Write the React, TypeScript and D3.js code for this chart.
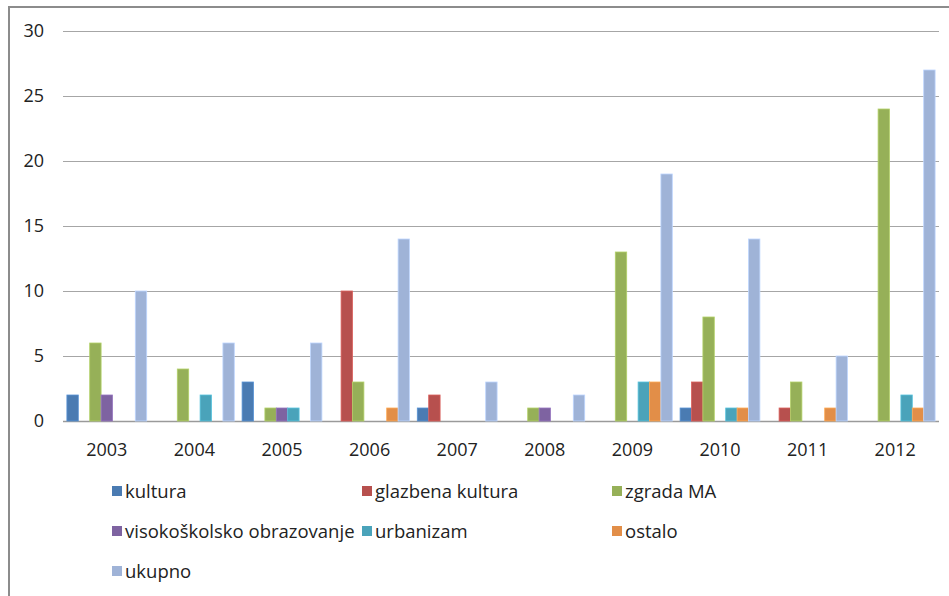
import React from 'react';
import * as d3 from 'd3';

// data
const years = ['2003', '2004', '2005', '2006', '2007', '2008', '2009', '2010', '2011', '2012'];
const seriesNames = ['kultura', 'glazbena kultura', 'zgrada MA', 'visokoškolsko obrazovanje', 'urbanizam', 'ostalo', 'ukupno'];
const kultura = [2, 0, 3, 0, 1, 0, 0, 1, 0, 0];
const glazbena = [0, 0, 0, 10, 2, 0, 0, 3, 1, 0];
const zgrada = [6, 4, 1, 3, 0, 1, 13, 8, 3, 24];
const visoko = [2, 0, 1, 0, 0, 1, 0, 0, 0, 0];
const urbanizam = [0, 2, 1, 0, 0, 0, 3, 1, 0, 2];
const ostalo = [0, 0, 0, 1, 0, 0, 3, 1, 1, 1];
const ukupno = [10, 6, 6, 14, 3, 2, 19, 14, 5, 27];
const yTicks = [0, 5, 10, 15, 20, 25, 30];

const colors = ['#4A7BB2', '#B7504E', '#96B058', '#7E63A1', '#4AA3BA', '#E28E48', '#9FB3D7'];

const allSeries = [kultura, glazbena, zgrada, visoko, urbanizam, ostalo, ukupno];

const font = '"Open Sans", sans-serif';

const App = () => {
   const width = 949;
   const height = 596;
   const plot = { left: 63, right: 939, top: 31, bottom: 421 };

   const x = d3.scaleBand()
      .domain(years)
      .range([plot.left, plot.right])
      .paddingInner(0.089)
      .paddingOuter(0.0445);

   const xs = d3.scaleBand()
      .domain(seriesNames)
      .range([0, x.bandwidth()])
      .padding(0);

   const y = d3.scaleLinear()
      .domain([0, 30])
      .range([plot.bottom, plot.top]);

   // legend grid: 3 columns, 3 rows
   const legendCols = [112, 362, 612];
   const legendRows = [492, 532, 572];

   return (
      <svg
         width={width}
         height={height}
         style={{ position: 'absolute', left: 0, top: 0, background: '#fff' }}
      >
         {/* outer chart frame */}
         <rect x={9} y={7} width={width + 10} height={height + 10} fill="#fff" stroke="#8c8c8c" strokeWidth={2} />

         {/* gridlines */}
         {yTicks.map(t => (
            <line
               key={t}
               x1={plot.left}
               x2={plot.right}
               y1={Math.round(y(t)) + 0.5}
               y2={Math.round(y(t)) + 0.5}
               stroke={t === 0 ? '#9a9a9a' : '#a6a6a6'}
               strokeWidth={t === 0 ? 1.5 : 1}
            />
         ))}

         {/* y labels */}
         {yTicks.map(t => (
            <text
               key={'l' + t}
               x={44}
               y={y(t)}
               dy="0.35em"
               textAnchor="end"
               fontFamily={font}
               fontSize={18}
               fill="#222"
            >
               {t}
            </text>
         ))}

         {/* bars */}
         {years.map((yr, i) => (
            <g key={yr} transform={`translate(${x(yr)},0)`}>
               {allSeries.map((s, j) => s[i] > 0 && (
                  <rect
                     key={j}
                     x={xs(seriesNames[j])}
                     y={y(s[i])}
                     width={xs.bandwidth()}
                     height={y(0) - y(s[i])}
                     fill={colors[j]}
                     stroke={d3.color(colors[j]).brighter(0.5).formatHex()}
                     strokeWidth={0.8}
                  />
               ))}
            </g>
         ))}

         {/* x labels */}
         {years.map(yr => (
            <text
               key={'x' + yr}
               x={x(yr) + x.bandwidth() / 2}
               y={456}
               textAnchor="middle"
               fontFamily={font}
               fontSize={18}
               fill="#222"
            >
               {yr}
            </text>
         ))}

         {/* legend */}
         {seriesNames.map((name, i) => {
            const lx = legendCols[i % 3];
            const ly = legendRows[Math.floor(i / 3)];
            return (
               <g key={name}>
                  <rect x={lx} y={ly - 6} width={10} height={10} fill={colors[i]} />
                  <text
                     x={lx + 13}
                     y={ly}
                     dy="0.35em"
                     fontFamily={font}
                     fontSize={18.5}
                     fill="#222"
                  >
                     {name}
                  </text>
               </g>
            );
         })}
      </svg>
   );
};

export default App;
